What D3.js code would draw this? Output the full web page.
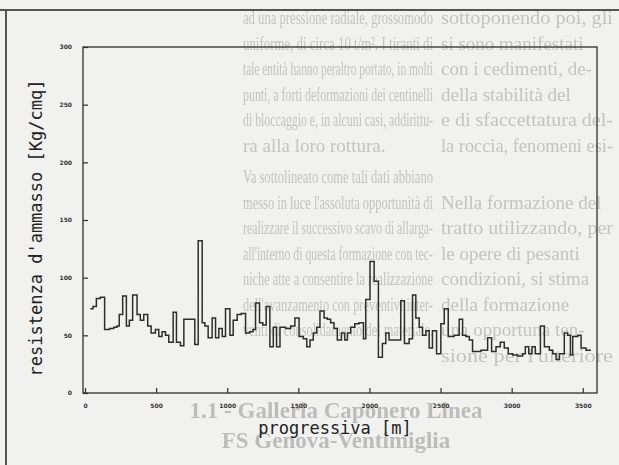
<!DOCTYPE html>
<html>
<head>
<meta charset="utf-8">
<script src="https://cdn.jsdelivr.net/npm/d3@7"></script>
<style>
  html, body { margin: 0; padding: 0; background: #f1f1ef; }
  svg { display: block; }
</style>
</head>
<body>
<svg id="chart" width="619" height="465"></svg>
<script>
// Progressive distance (m) at which each step of the profile begins
const progressiva = [
  37, 56, 80, 108, 138, 173, 202, 225, 241, 265, 291, 312, 335, 366, 389, 413,
  441, 465, 495, 519, 542, 566, 589, 620, 643, 671, 695, 772, 796, 824, 843, 866,
  894, 918, 941, 965, 988, 1019, 1042, 1070, 1098, 1129, 1157, 1181, 1199, 1227, 1250, 1274,
  1300, 1324, 1347, 1371, 1411, 1446, 1476, 1505, 1535, 1559, 1582, 1605, 1629, 1652, 1681, 1704,
  1727, 1751, 1774, 1803, 1826, 1845, 1868, 1897, 1927, 1958, 1974, 2004, 2033, 2063, 2091, 2115,
  2138, 2169, 2197, 2220, 2246, 2279, 2303, 2326, 2350, 2373, 2397, 2420, 2443, 2472, 2502, 2526,
  2554, 2596, 2631, 2655, 2678, 2702, 2725, 2784, 2831, 2859, 2890, 2920, 2948, 2976, 3007, 3042,
  3077, 3096, 3120, 3143, 3166, 3202, 3230, 3265, 3289, 3312, 3336, 3370, 3394, 3413, 3429, 3465,
  3488, 3523
];
// Rock-mass strength over each step (Kg/cmq)
const resistenza = [
  73, 75, 82, 83, 55, 56, 57, 58, 68, 84, 58, 63, 85, 68, 63, 68,
  58, 52, 55, 49, 53, 50, 44, 70, 44, 41, 64, 42, 132, 61, 58, 48,
  65, 48, 56, 49, 73, 50, 63, 68, 69, 52, 53, 55, 78, 61, 59, 75,
  40, 57, 40, 57, 56, 58, 65, 49, 47, 40, 46, 52, 57, 71, 65, 64,
  61, 56, 46, 52, 46, 52, 57, 60, 61, 47, 81, 114, 97, 31, 43, 52,
  46, 46, 46, 80, 43, 47, 85, 65, 57, 50, 54, 39, 54, 34, 60, 73,
  49, 50, 64, 50, 49, 46, 36, 37, 48, 36, 40, 44, 39, 34, 33, 32,
  34, 40, 34, 40, 34, 58, 40, 37, 34, 29, 34, 52, 50, 33, 49, 50,
  39, 37
];
const fineTratta = 3558;   // end of the surveyed stretch (m)

const xTicks = [0, 500, 1000, 1500, 2000, 2500, 3000, 3500];
const yTicks = [0, 50, 100, 150, 200, 250, 300];
const xTitle = "progressiva [m]";
const yTitle = "resistenza d'ammasso [Kg/cmq]";

// Body text of the printed page behind the figure
const colonnaCentrale = [
  "ad una pressione radiale, grossomodo",
  "uniforme, di circa 10 t/m². I tiranti di",
  "tale entità hanno peraltro portato, in molti",
  "punti, a forti deformazioni dei centinelli",
  "di bloccaggio e, in alcuni casi, addirittu-",
  "ra alla loro rottura.",
  "Va sottolineato come tali dati abbiano",
  "messo in luce l'assoluta opportunità di",
  "realizzare il successivo scavo di allarga-",
  "all'interno di questa formazione con tec-",
  "niche atte a consentire la realizzazione",
  "dell'avanzamento con preventivi inter-",
  "venti di consolidamento del materiale."
];
const colonnaDestra = [
  "sottoponendo poi, gli",
  "si sono manifestati",
  "con i cedimenti, de-",
  "della stabilità del",
  "e di sfaccettatura del-",
  "la roccia, fenomeni esi-",
  "",
  "Nella formazione del",
  "tratto utilizzando, per",
  "le opere di pesanti",
  "condizioni, si stima",
  "della formazione",
  "una opportuna ten-",
  "sione per l'ulteriore"
];
const titoloParagrafo = ["1.1 - Galleria Caponero Linea", "FS Genova-Ventimiglia"];

const svg = d3.select("#chart");
const W = 619, H = 465;

// ---- page background with show-through text ----
svg.append("rect").attr("width", W).attr("height", H).attr("fill", "#f1f1ef");

const defs = svg.append("defs");
defs.append("filter").attr("id", "soft")
  .append("feGaussianBlur").attr("stdDeviation", 0.45);

const ghost = svg.append("g")
  .attr("font-family", "'Liberation Serif', 'DejaVu Serif', serif")
  .attr("fill", "#c3c3c1")
  .attr("filter", "url(#soft)");

const rigaY = i => 24 + i * 25.5 + (i >= 6 ? 6 : 0);

ghost.selectAll("text.mid").data(colonnaCentrale).join("text")
  .attr("class", "mid")
  .attr("x", 243)
  .attr("y", (d, i) => rigaY(i))
  .attr("font-size", 19)
  .attr("textLength", d => d.length > 30 ? 190 : null)
  .attr("lengthAdjust", "spacingAndGlyphs")
  .text(d => d);

ghost.selectAll("text.right").data(colonnaDestra).join("text")
  .attr("class", "right")
  .attr("x", 441)
  .attr("y", (d, i) => rigaY(i))
  .attr("font-size", 19)
  .attr("textLength", d => d.length >= 21 ? 172 : null)
  .attr("lengthAdjust", "spacingAndGlyphs")
  .text(d => d);

ghost.selectAll("text.head").data(titoloParagrafo).join("text")
  .attr("class", "head")
  .attr("x", 336)
  .attr("y", (d, i) => 418 + i * 30)
  .attr("text-anchor", "middle")
  .attr("font-size", 23)
  .attr("font-weight", "bold")
  .attr("fill", "#bcbcba")
  .text(d => d);

// ---- scanned page frame ----
svg.append("line").attr("x1", 0).attr("x2", W).attr("y1", 10).attr("y2", 10)
  .attr("stroke", "#555").attr("stroke-width", 2);
svg.append("line").attr("x1", 6).attr("x2", 6).attr("y1", 10).attr("y2", H)
  .attr("stroke", "#555").attr("stroke-width", 2);

// ---- chart ----
const plot = { left: 83, right: 597, top: 47, bottom: 393 };
const x = d3.scaleLinear().domain([-14, 3600]).range([plot.left, plot.right]);
const y = d3.scaleLinear().domain([0, 300]).range([plot.bottom, plot.top]);

const ink = "#2e2e2e";

svg.append("rect")
  .attr("x", plot.left).attr("y", plot.top)
  .attr("width", plot.right - plot.left).attr("height", plot.bottom - plot.top)
  .attr("fill", "none").attr("stroke", ink).attr("stroke-width", 1.3);

const xAxis = svg.append("g")
  .attr("transform", `translate(0,${plot.bottom})`)
  .call(d3.axisBottom(x).tickValues(xTicks).tickSize(-5).tickSizeOuter(0).tickPadding(11)
    .tickFormat(d3.format("d")));
const yAxis = svg.append("g")
  .attr("transform", `translate(${plot.left},0)`)
  .call(d3.axisLeft(y).tickValues(yTicks).tickSize(-5).tickSizeOuter(0).tickPadding(11)
    .tickFormat(d3.format("d")));

[xAxis, yAxis].forEach(g => {
  g.select(".domain").remove();
  g.selectAll(".tick line").attr("stroke", ink).attr("stroke-width", 1.2);
  g.selectAll(".tick text")
    .attr("fill", "#333")
    .attr("font-family", "'DejaVu Sans', sans-serif")
    .attr("font-weight", "bold")
    .attr("font-size", 6);
});

// step profile of the strength along the tunnel
const punti = progressiva.map((p, i) => [p, resistenza[i]]);
punti.push([fineTratta, resistenza[resistenza.length - 1]]);

svg.append("path")
  .datum(punti)
  .attr("fill", "none")
  .attr("stroke", ink)
  .attr("stroke-width", 1.5)
  .attr("d", d3.line().x(d => x(d[0])).y(d => y(d[1])).curve(d3.curveStepAfter));

// axis titles
svg.append("text")
  .attr("x", (plot.left + plot.right) / 2 - 5)
  .attr("y", 434)
  .attr("text-anchor", "middle")
  .attr("font-family", "'DejaVu Sans Mono', monospace")
  .attr("font-size", 17)
  .attr("fill", "#222")
  .text(xTitle);

svg.append("text")
  .attr("transform", "translate(42,228) rotate(-90)")
  .attr("text-anchor", "middle")
  .attr("font-family", "'DejaVu Sans Mono', monospace")
  .attr("font-size", 17)
  .attr("fill", "#222")
  .text(yTitle);
</script>
</body>
</html>
